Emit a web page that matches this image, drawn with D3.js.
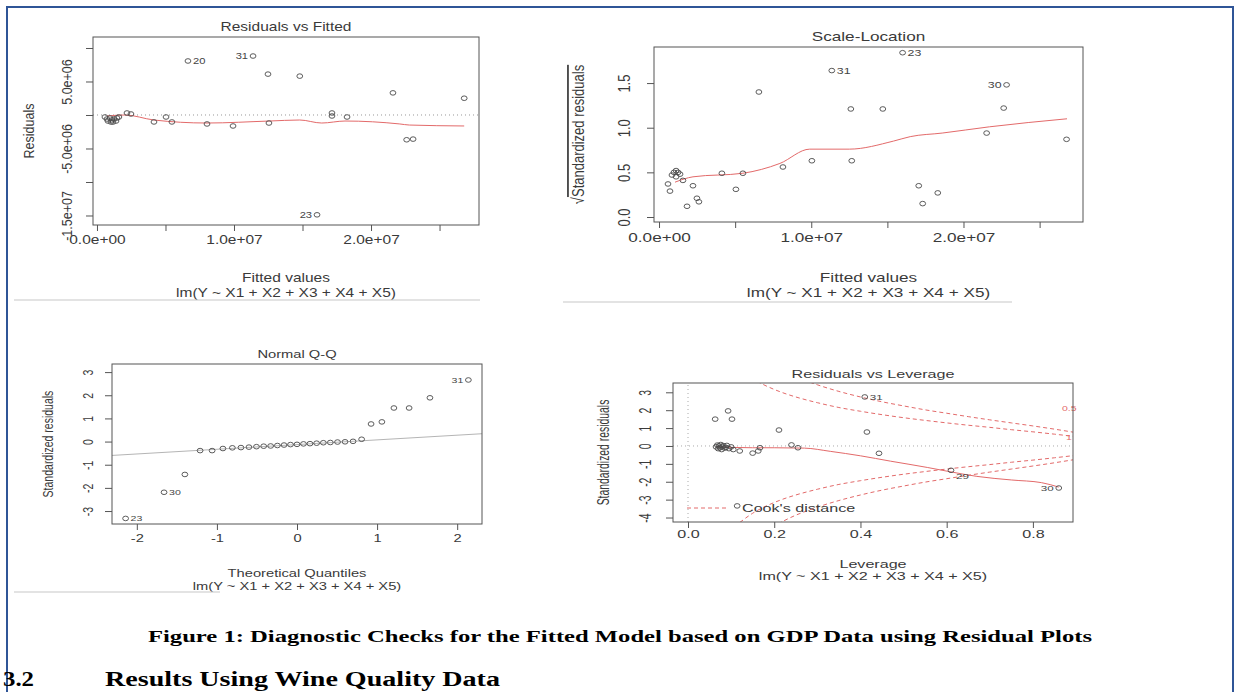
<!DOCTYPE html>
<meta charset="utf-8">
<style>
body { margin: 0; background: #fff; }
svg text { font-family: Arial, "Liberation Sans", Helvetica, sans-serif; }
.cap { font-family: "Liberation Serif", "Times New Roman", serif; font-weight: bold; fill: #000; }
.axis path, .axis line { stroke: #555; }
.axis text { fill: #3a3a3a; }
</style>
<body>
<script src="https://cdnjs.cloudflare.com/ajax/libs/d3/7.8.5/d3.min.js"></script>
<script>

// ---- Residuals vs Fitted ----
var rvfFitted = [0.58e6,0.73e6,0.80e6,0.95e6,1.02e6,1.09e6,1.17e6,1.24e6,1.39e6,1.46e6,1.60e6,
  2.19e6,2.48e6,4.16e6,5.04e6,5.47e6,6.64e6,8.03e6,9.93e6,11.39e6,12.48e6,12.55e6,14.8e6,16.06e6,
  17.15e6,17.15e6,18.25e6,21.6e6,22.6e6,23.07e6,26.8e6];
var rvfResid = [-0.3e6,-0.6e6,-0.9e6,-0.45e6,-1.05e6,-0.75e6,-1.05e6,-0.6e6,-0.9e6,-0.45e6,-0.3e6,
  0.3e6,0.15e6,-1.04e6,-0.3e6,-1.04e6,8.06e6,-1.34e6,-1.64e6,8.8e6,6.1e6,-1.2e6,5.8e6,-14.9e6,
  -0.15e6,0.3e6,-0.3e6,3.3e6,-3.7e6,-3.6e6,2.5e6];
var rvfSmoothX = [0.73e6,2.04e6,4.16e6,8.03e6,12.6e6,14.8e6,16.4e6,18.1e6,22.1e6,22.8e6,26.8e6];
var rvfSmoothY = [-0.15e6,0,-0.75e6,-1.2e6,-0.9e6,-0.75e6,-1.2e6,-0.9e6,-1.34e6,-1.5e6,-1.64e6];
var rvfIds = [[16,"20"],[19,"31"],[23,"23"]];
var rvfXTicks = [0,5e6,1e7,1.5e7,2e7,2.5e7];
var rvfXLabels = ["0.0e+00","","1.0e+07","","2.0e+07",""];
var rvfYTicks = [-1.5e7,-1e7,-5e6,0,5e6,1e7];
var rvfYLabels = ["-1.5e+07","","-5.0e+06","","5.0e+06",""];

// ---- Scale-Location ----
var slFitted = [0.59e6,0.72e6,0.85e6,0.98e6,1.12e6,1.12e6,1.25e6,1.38e6,1.57e6,1.84e6,2.23e6,2.49e6,2.62e6,
  4.13e6,5.05e6,5.51e6,6.56e6,8.14e6,10.04e6,11.35e6,12.6e6,12.66e6,14.7e6,16.0e6,17.06e6,17.32e6,
  18.31e6,21.52e6,22.64e6,22.83e6,26.77e6];
var slValue = [0.37,0.29,0.47,0.50,0.52,0.45,0.50,0.48,0.41,0.12,0.35,0.21,0.17,
  0.49,0.31,0.49,1.40,0.56,0.63,1.64,1.21,0.63,1.21,1.84,0.35,0.15,0.27,0.94,1.22,1.48,0.87];
var slSmoothX = [1.05e6,2.23e6,5.5e6,7.94e6,9.9e6,12.5e6,15.4e6,16.5e6,18.6e6,21.7e6,26.8e6];
var slSmoothY = [0.39,0.45,0.49,0.60,0.76,0.76,0.85,0.90,0.94,1.01,1.10];
var slIds = [[19,"31"],[23,"23"],[29,"30"]];
var slXTicks = [0,5e6,1e7,1.5e7,2e7,2.5e7];
var slXLabels = ["0.0e+00","","1.0e+07","","2.0e+07",""];
var slYTicks = [0,0.5,1,1.5];
var slYLabels = ["0.0","0.5","1.0","1.5"];

// ---- Normal Q-Q ----
var qqTheo = [-2.14,-1.66,-1.40,-1.21,-1.06,-0.925,-0.807,-0.700,-0.600,-0.506,-0.416,-0.329,-0.245,-0.162,-0.081,0,
  0.081,0.162,0.245,0.329,0.416,0.506,0.600,0.700,0.807,0.925,1.06,1.21,1.40,1.66,2.14];
var qqStd = [-3.32,-2.19,-1.42,-0.39,-0.39,-0.30,-0.27,-0.26,-0.24,-0.22,-0.20,-0.19,-0.17,-0.15,-0.13,-0.12,
  -0.10,-0.09,-0.07,-0.05,-0.04,-0.02,-0.01,0.01,0.10,0.76,0.85,1.45,1.45,1.89,2.66];
var qqLine = [-0.13, 0.203]; // intercept, slope
var qqIds = [[0,"23"],[1,"30"],[30,"31"]];
var qqXTicks = [-2,-1,0,1,2];
var qqXLabels = ["-2","-1","0","1","2"];
var qqYTicks = [-3,-2,-1,0,1,2,3];
var qqYLabels = ["-3","-2","-1","0","1","2","3"];

// ---- Residuals vs Leverage ----
var lvLev = [0.065,0.068,0.07,0.072,0.074,0.076,0.078,0.08,0.082,0.085,0.088,0.09,0.095,0.1,0.105,
  0.063,0.102,0.093,0.211,0.415,0.41,0.12,0.15,0.167,0.163,0.24,0.255,0.443,0.61,0.86,0.114];
var lvStd = [-0.05,0.05,-0.15,0.0,-0.1,0.08,-0.2,-0.05,0.02,-0.12,-0.08,0.03,-0.15,-0.05,-0.2,
  1.5,1.5,1.96,0.89,0.78,2.74,-0.28,-0.4,-0.1,-0.28,0.06,-0.1,-0.41,-1.36,-2.35,-3.35];
var lvSmoothX = [0.065,0.1,0.15,0.2,0.27,0.33,0.40,0.47,0.555,0.61,0.67,0.75,0.82,0.86];
var lvSmoothY = [-0.05,-0.08,-0.1,-0.1,-0.12,-0.3,-0.55,-0.85,-1.2,-1.45,-1.7,-1.9,-2.05,-2.3];
var cookH = [0.12,0.15,0.17,0.20,0.217,0.25,0.28,0.30,0.35,0.40,0.45,0.50,0.55,0.60,0.65,0.70,0.75,0.80,0.85,0.894];
var cook05 = [4.28,3.76,3.49,3.16,3.0,2.74,2.54,2.42,2.15,1.94,1.75,1.58,1.43,1.29,1.16,1.04,0.91,0.79,0.66,0.54];
var cook1 = [6.05,5.32,4.94,4.47,4.25,3.87,3.59,3.42,3.05,2.74,2.47,2.24,2.02,1.83,1.64,1.46,1.29,1.12,0.94,0.77];
var lvIds = [[20,"31"],[28,"29"],[29,"30"]];
var lvXTicks = [0,0.2,0.4,0.6,0.8];
var lvXLabels = ["0.0","0.2","0.4","0.6","0.8"];
var lvYTicks = [-4,-3,-2,-1,0,1,2,3];
var lvYLabels = ["-4","-3","-2","-1","0","1","2","3"];

var formula = "lm(Y ~ X1 + X2 + X3 + X4 + X5)";

var width = 1241, height = 692;
var svg = d3.select("body").append("svg").attr("width", width).attr("height", height);

var red = "#e36a6a";

function stext(g, x, y, str, o) {
  var tr = "translate(" + x + "," + y + ")" + (o.rot ? " rotate(-90) scale(1," + o.sx + ")" : " scale(" + o.sx + ",1)");
  return g.append("text")
    .attr("transform", tr)
    .attr("text-anchor", o.anchor || "middle")
    .attr("dy", o.rot ? "0.35em" : null)
    .style("font-size", o.fs + "px")
    .style("fill", o.fill || "#3a3a3a")
    .text(str);
}

function panel(p) {
  var g = svg.append("g");
  var b = p.box;
  var x = d3.scaleLinear().domain(p.xDom).range([b[0], b[2]]);
  var y = d3.scaleLinear().domain(p.yDom).range([b[3], b[1]]);
  var o = {fs: p.fs, sx: p.sx};

  var clipId = "clip-" + p.key;
  svg.append("clipPath").attr("id", clipId).append("rect")
    .attr("x", b[0]).attr("y", b[1]).attr("width", b[2] - b[0]).attr("height", b[3] - b[1]);

  // axes
  var ax = g.append("g").attr("class", "axis").attr("transform", "translate(0," + b[3] + ")")
    .call(d3.axisBottom(x).tickValues(p.xTicks).tickSize(6).tickFormat(function(d, i) { return p.xLabels[i]; }));
  ax.select(".domain").remove();
  ax.selectAll("text").attr("y", p.xLabOff).attr("dy", null)
    .attr("transform", "scale(" + p.sx + ",1)").style("font-size", p.fs + "px");

  var ay = g.append("g").attr("class", "axis").attr("transform", "translate(" + b[0] + ",0)")
    .call(d3.axisLeft(y).tickValues(p.yTicks).tickSize(7).tickFormat(function(d, i) { return p.yLabels[i]; }));
  ay.select(".domain").remove();
  ay.selectAll("text").attr("x", 0).attr("y", -p.yLabOff / p.sx).attr("dy", "0.35em")
    .attr("text-anchor", "middle")
    .attr("transform", "rotate(-90) scale(1," + p.sx + ")").style("font-size", p.fs + "px");

  var inner = g.append("g").attr("clip-path", "url(#" + clipId + ")");
  if (p.extra) p.extra(inner, x, y, g);

  // smooth
  if (p.smoothX) {
    inner.append("path")
      .datum(d3.zip(p.smoothX, p.smoothY))
      .attr("fill", "none").attr("stroke", red).attr("stroke-width", 1)
      .attr("d", d3.line().x(function(d) { return x(d[0]); }).y(function(d) { return y(d[1]); }).curve(d3.curveMonotoneX));
  }

  // points
  var pts = d3.zip(p.px, p.py);
  g.selectAll(null).data(pts).enter().append("ellipse")
    .attr("cx", function(d) { return x(d[0]); })
    .attr("cy", function(d) { return y(d[1]); })
    .attr("rx", 2.9).attr("ry", 2.3)
    .attr("fill", "none").attr("stroke", "#4a4a4a").attr("stroke-width", 0.9);

  // id labels
  p.ids.forEach(function(id, k) {
    var d = pts[id[0]];
    var side = p.idSide[k];
    var dx = side === "left" ? -5 : 5;
    stext(g, x(d[0]) + dx, y(d[1]) + 3 + (p.idDy ? p.idDy[k] : 0), id[1],
      {fs: p.fs * 0.72, sx: p.sx, anchor: side === "left" ? "end" : "start", fill: "#444"});
  });

  // box
  g.append("rect").attr("x", b[0]).attr("y", b[1]).attr("width", b[2] - b[0]).attr("height", b[3] - b[1])
    .attr("fill", "none").attr("stroke", "#555").attr("stroke-width", 1);

  // titles
  var cx = (b[0] + b[2]) / 2;
  stext(g, cx, p.titleY, p.title, o);
  stext(g, cx, p.xTitleY, p.xTitle, o);
  stext(g, cx, p.xTitleY + p.subGap, formula, o);
  if (p.yTitleNode) p.yTitleNode(g, b[0] - p.yTitleOff, (b[1] + b[3]) / 2, o);
  else stext(g, b[0] - p.yTitleOff, (b[1] + b[3]) / 2, p.yTitle, {fs: p.fs, sx: p.sx, rot: true});
  return g;
}

// panel 1
panel({
  key: "rvf", box: [93, 37, 479, 225], xDom: [-0.29e6, 27.88e6], yDom: [-16.42e6, 11.64e6],
  fs: 12.5, sx: 1.24, px: rvfFitted, py: rvfResid, smoothX: rvfSmoothX, smoothY: rvfSmoothY,
  ids: rvfIds, idSide: ["right", "left", "left"],
  xTicks: rvfXTicks, xLabels: rvfXLabels, yTicks: rvfYTicks, yLabels: rvfYLabels,
  xLabOff: 19, yLabOff: 26, title: "Residuals vs Fitted", titleY: 31,
  xTitle: "Fitted values", xTitleY: 282, subGap: 15, yTitle: "Residuals", yTitleOff: 64,
  extra: function(g, x, y) {
    g.append("line").attr("x1", x.range()[0]).attr("x2", x.range()[1]).attr("y1", y(0)).attr("y2", y(0))
      .attr("stroke", "#999").attr("stroke-dasharray", "1,3");
  }
});

// panel 2
panel({
  key: "sl", box: [654, 47, 1083, 222], xDom: [-0.33e6, 27.85e6], yDom: [-0.056, 1.904],
  fs: 13, sx: 1.32, px: slFitted, py: slValue, smoothX: slSmoothX, smoothY: slSmoothY,
  ids: slIds, idSide: ["right", "right", "left"],
  xTicks: slXTicks, xLabels: slXLabels, yTicks: slYTicks, yLabels: slYLabels,
  xLabOff: 20, yLabOff: 30, title: "Scale-Location", titleY: 41,
  xTitle: "Fitted values", xTitleY: 282, subGap: 15, yTitleOff: 76,
  yTitleNode: function(g, cx, cy, o) {
    var t = g.append("text")
      .attr("transform", "translate(" + cx + "," + cy + ") rotate(-90) scale(1," + o.sx + ")")
      .attr("text-anchor", "middle").attr("dy", "0.35em")
      .style("font-size", o.fs + "px").style("fill", "#3a3a3a");
    t.append("tspan").text("\u221A");
    t.append("tspan").style("text-decoration", "overline").text("Standardized residuals");
  }
});

// panel 3
panel({
  key: "qq", box: [112, 364, 482, 524], xDom: [-2.31, 2.31], yDom: [-3.56, 3.35],
  fs: 10.5, sx: 1.4, px: qqTheo, py: qqStd,
  ids: qqIds, idSide: ["right", "right", "left"],
  xTicks: qqXTicks, xLabels: qqXLabels, yTicks: qqYTicks, yLabels: qqYLabels,
  xLabOff: 18, yLabOff: 24, title: "Normal Q-Q", titleY: 358,
  xTitle: "Theoretical Quantiles", xTitleY: 577, subGap: 13, yTitle: "Standardized residuals", yTitleOff: 64,
  extra: function(g, x, y) {
    var q = x.domain();
    g.append("line").attr("x1", x(q[0])).attr("x2", x(q[1]))
      .attr("y1", y(qqLine[0] + qqLine[1] * q[0])).attr("y2", y(qqLine[0] + qqLine[1] * q[1]))
      .attr("stroke", "#b5b5b5").attr("stroke-width", 1);
  }
});

// panel 4
panel({
  key: "lv", box: [673, 383, 1073, 522], xDom: [-0.0348, 0.893], yDom: [-4.25, 3.52],
  fs: 10.4, sx: 1.55, px: lvLev, py: lvStd, smoothX: lvSmoothX, smoothY: lvSmoothY,
  ids: lvIds, idSide: ["right", "right", "left"], idDy: [0, 6, 0],
  xTicks: lvXTicks, xLabels: lvXLabels, yTicks: lvYTicks, yLabels: lvYLabels,
  xLabOff: 16, yLabOff: 28, title: "Residuals vs Leverage", titleY: 378,
  xTitle: "Leverage", xTitleY: 568, subGap: 12, yTitle: "Standardized residuals", yTitleOff: 70,
  extra: function(g, x, y, outer) {
    g.append("line").attr("x1", x.range()[0]).attr("x2", x.range()[1]).attr("y1", y(0)).attr("y2", y(0))
      .attr("stroke", "#aaa").attr("stroke-dasharray", "1,3");
    g.append("line").attr("x1", x(0)).attr("x2", x(0)).attr("y1", y.range()[0]).attr("y2", y.range()[1])
      .attr("stroke", "#aaa").attr("stroke-dasharray", "1,3");
    var line = d3.line().x(function(d) { return x(d[0]); }).y(function(d) { return y(d[1]); }).curve(d3.curveMonotoneX);
    [cook05, cook1].forEach(function(c) {
      [1, -1].forEach(function(s) {
        g.append("path").datum(d3.zip(cookH, c.map(function(v) { return s * v; })))
          .attr("fill", "none").attr("stroke", red).attr("stroke-width", 1)
          .attr("stroke-dasharray", "4,3").attr("d", line);
      });
    });
    // legend
    outer.append("line").attr("x1", 687).attr("x2", 727).attr("y1", 508).attr("y2", 508)
      .attr("stroke", red).attr("stroke-dasharray", "4,3");
    stext(outer, 742, 512, "Cook's distance", {fs: 10.4, sx: 1.55, anchor: "start"});
    stext(outer, 1062, 411, "0.5", {fs: 7.5, sx: 1.4, anchor: "start", fill: red});
    stext(outer, 1066, 440, "1", {fs: 7.5, sx: 1.4, anchor: "start", fill: red});
  }
});

// separators under the upper panels
[[14, 480, 300], [563, 1012, 302], [14, 220, 592]].forEach(function(s) {
  svg.append("line").attr("x1", s[0]).attr("x2", s[1]).attr("y1", s[2]).attr("y2", s[2])
    .attr("stroke", "#c8c8c8").attr("stroke-width", 1.2);
});

// page frame
var frame = svg.append("g").attr("stroke", "#2f5597").attr("stroke-width", 2).attr("fill", "none");
frame.append("path").attr("d", "M7,692 V7 H1233 V692");

// caption and heading
svg.append("text").attr("class", "cap").attr("x", 148).attr("y", 642)
  .attr("textLength", 944).attr("lengthAdjust", "spacingAndGlyphs").style("font-size", "17px")
  .text("Figure 1: Diagnostic Checks for the Fitted Model based on GDP Data using Residual Plots");
svg.append("text").attr("class", "cap").attr("x", 3).attr("y", 686)
  .attr("textLength", 31).attr("lengthAdjust", "spacingAndGlyphs").style("font-size", "20px").text("3.2");
svg.append("text").attr("class", "cap").attr("x", 105).attr("y", 686)
  .attr("textLength", 395).attr("lengthAdjust", "spacingAndGlyphs").style("font-size", "20px")
  .text("Results Using Wine Quality Data");

</script>
